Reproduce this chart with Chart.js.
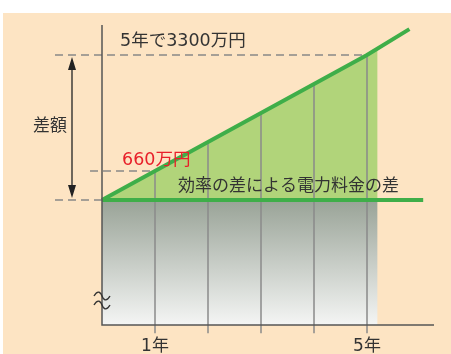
<!DOCTYPE html>
<html lang="ja">
<head>
<meta charset="utf-8">
<script src="https://cdn.jsdelivr.net/npm/chart.js@4"></script>
<style>
  html, body { margin: 0; padding: 0; background: #fff; }
  #wrap { width: 451px; height: 354px; }
</style>
</head>
<body>
<div id="wrap"><canvas id="c" width="451" height="354"></canvas></div>
<script>
// --- データ（万円・年） ---
const lineYears = [0, 1, 5, 5.8];
const lineDiff = [0, 660, 3300, 3890];
const fillYears = [0, 1, 5, 5.2];
const fillDiff = [0, 660, 3300, 3432];
const baseYears = [0, 6.06];
const gridYears = [1, 2, 3, 4, 5];
const gridTops = [660, 1320, 1980, 2640, 3300];
const tickLabels = ['1年', '', '', '', '5年'];
const markValues = [3300, 660];

const FONT = '"Noto Sans CJK JP", "Noto Sans", sans-serif';
const NUM_FONT = '"DejaVu Sans", "Noto Sans CJK JP", sans-serif';
const GREEN = '#3fae49';
const Y_MIN = -2845, Y_MAX = 3983, TICK_BOTTOM = -3030;

const pts = (xs, ys) => xs.map((x, i) => ({ x, y: ys[i] }));

// 縦の区切り線（null で線を切る）
const gridPts = [];
gridYears.forEach((x, i) => {
  gridPts.push({ x, y: gridTops[i] }, { x, y: TICK_BOTTOM }, { x, y: null });
});

// 点線ガイド
const guideTop = [{ x: -0.887, y: markValues[0] }, { x: 5, y: markValues[0] }];
const guideMid = [{ x: -0.226, y: markValues[1] }, { x: 1, y: markValues[1] }];
const guideZero = [{ x: -0.887, y: 0 }, { x: 0, y: 0 }];

function grayGradient(ctx) {
  const chart = ctx.chart;
  const area = chart.chartArea;
  if (!area) return '#ccc';
  const top = chart.scales.y.getPixelForValue(0);
  const g = chart.ctx.createLinearGradient(0, top, 0, area.bottom);
  g.addColorStop(0, '#99a397');
  g.addColorStop(1, '#f4f5f4');
  return g;
}

const plain = { pointRadius: 0, tension: 0, clip: false, spanGaps: false };

const decor = {
  id: 'decor',
  beforeDraw(chart) {
    const c = chart.ctx;
    c.save();
    c.fillStyle = '#ffffff';
    c.fillRect(0, 0, chart.width, chart.height);
    c.fillStyle = '#fde4c3';
    c.fillRect(3, 13, chart.width - 3, chart.height - 13);
    c.restore();
  },
  afterDatasetsDraw(chart) {
    const c = chart.ctx;
    const xs = chart.scales.x, ys = chart.scales.y;
    const a = chart.chartArea;
    const px = v => xs.getPixelForValue(v);
    const py = v => ys.getPixelForValue(v);
    c.save();

    // 軸
    c.strokeStyle = '#555';
    c.lineWidth = 1.5;
    c.beginPath();
    c.moveTo(a.left, a.top);
    c.lineTo(a.left, a.bottom);
    c.lineTo(a.right, a.bottom);
    c.stroke();

    // 省略記号
    c.strokeStyle = '#333';
    c.lineWidth = 1.4;
    [296, 305].forEach(cy => {
      const cx = a.left;
      c.beginPath();
      c.moveTo(cx - 8, cy);
      c.bezierCurveTo(cx - 4, cy - 7, cx - 1, cy - 3, cx, cy);
      c.bezierCurveTo(cx + 1, cy + 3, cx + 4, cy + 7, cx + 8, cy);
      c.stroke();
    });

    // 差額の矢印
    const ax = px(-0.566);
    const t = py(markValues[0]) + 2, b = py(0) - 2;
    c.strokeStyle = '#222';
    c.fillStyle = '#222';
    c.lineWidth = 1.3;
    c.beginPath();
    c.moveTo(ax, t + 10);
    c.lineTo(ax, b - 10);
    c.stroke();
    c.beginPath();
    c.moveTo(ax, t); c.lineTo(ax - 4, t + 13); c.lineTo(ax + 4, t + 13); c.closePath();
    c.moveTo(ax, b); c.lineTo(ax - 4, b - 13); c.lineTo(ax + 4, b - 13); c.closePath();
    c.fill();

    // テキスト
    c.textBaseline = 'middle';
    c.font = '17px ' + FONT;
    c.fillStyle = '#333';
    c.textAlign = 'center';
    c.fillText('差額', 50, 125);
    c.textAlign = 'left';
    c.fillText('効率の差による電力料金の差', 178, 185);
    c.font = '17.5px ' + NUM_FONT;
    c.fillText('5年で' + markValues[0] + '万円', 120, 41);
    c.fillStyle = '#e8202a';
    c.fillText(markValues[1] + '万円', 122, 160);

    // 目盛ラベル
    c.fillStyle = '#333';
    c.textAlign = 'center';
    c.textBaseline = 'top';
    c.font = '17px ' + NUM_FONT;
    gridYears.forEach((x, i) => {
      if (tickLabels[i]) c.fillText(tickLabels[i], px(x), 338);
    });
    c.restore();
  }
};

new Chart(document.getElementById('c'), {
  type: 'line',
  data: {
    datasets: [
      { ...plain, data: pts(lineYears, lineDiff), borderColor: GREEN, borderWidth: 4, fill: false, order: 1 },
      { ...plain, data: pts(baseYears, [0, 0]), borderColor: GREEN, borderWidth: 4, fill: false, order: 2 },
      { ...plain, data: guideTop, borderColor: '#888', borderWidth: 1.5, borderDash: [8, 5], fill: false, order: 3 },
      { ...plain, data: guideMid, borderColor: '#888', borderWidth: 1.5, borderDash: [8, 5], fill: false, order: 3 },
      { ...plain, data: guideZero, borderColor: '#888', borderWidth: 1.5, borderDash: [8, 5], fill: false, order: 3 },
      { ...plain, data: gridPts, borderColor: '#8a8a8a', borderWidth: 1.5, fill: false, order: 4 },
      { ...plain, clip: true, data: pts(fillYears, fillDiff), borderWidth: 0, backgroundColor: '#b1d47a', fill: 'origin', order: 5 },
      { ...plain, clip: true, data: pts([0, 5.2], [0, 0]), borderWidth: 0, backgroundColor: grayGradient, fill: 'start', order: 6 }
    ]
  },
  options: {
    responsive: false,
    animation: false,
    layout: { padding: { left: 102, right: 17, top: 25, bottom: 29 } },
    plugins: { legend: { display: false }, tooltip: { enabled: false } },
    scales: {
      x: { type: 'linear', min: 0, max: 6.264, display: false },
      y: { type: 'linear', min: Y_MIN, max: Y_MAX, display: false }
    }
  },
  plugins: [decor]
});
</script>
</body>
</html>
